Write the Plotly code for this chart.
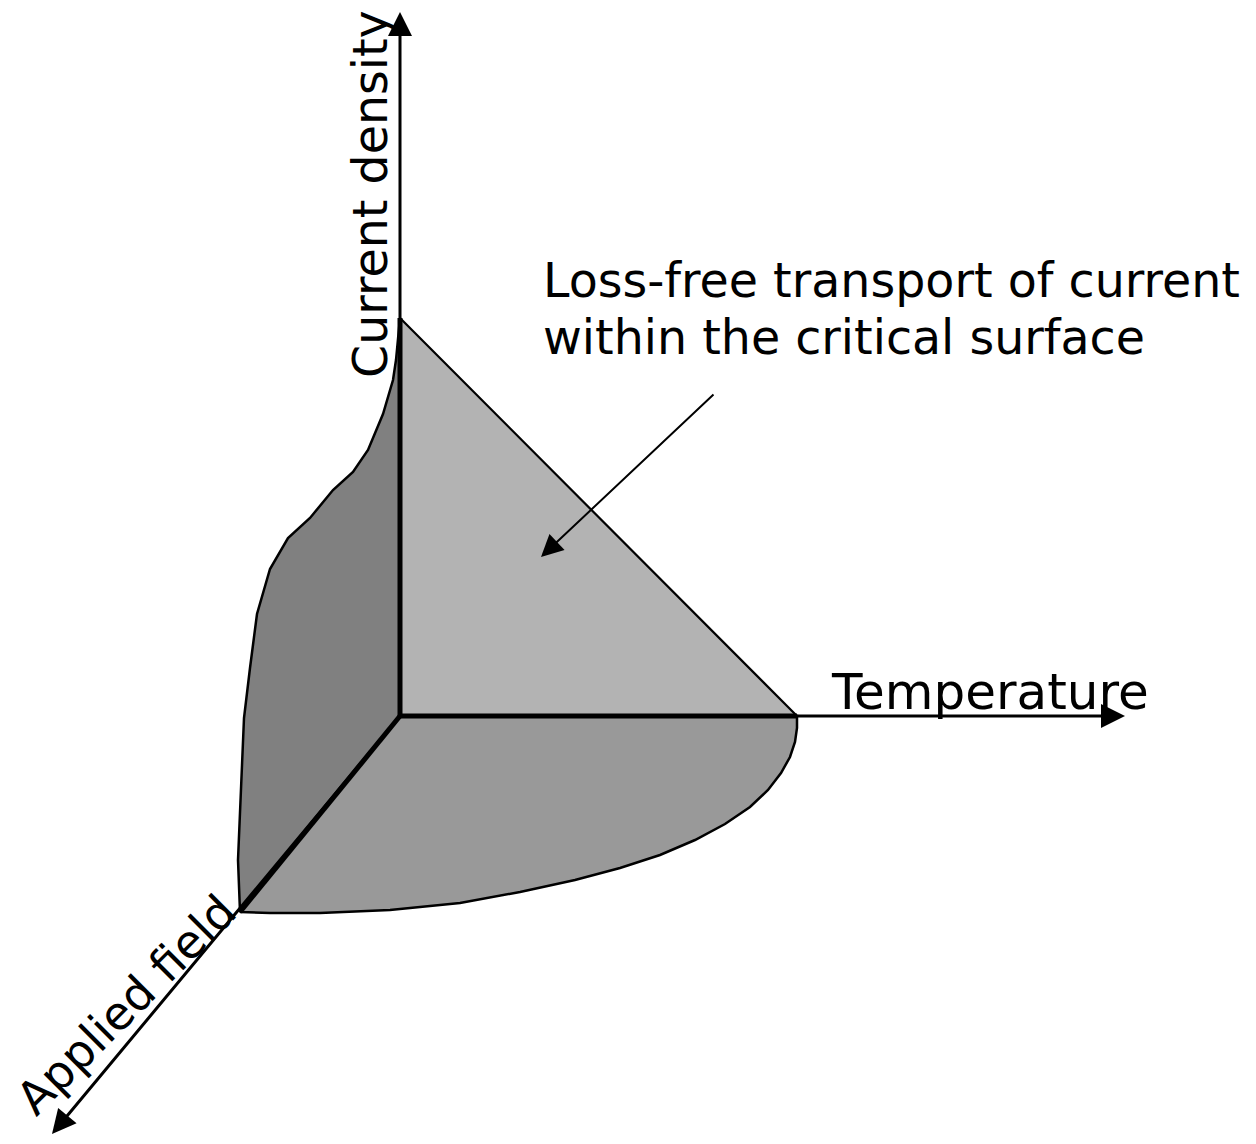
import plotly.graph_objects as go

# ---- diagram data (pixel-space coordinates of the sketch) ----
origin = [400, 716]
jc_point = [400, 318]      # critical current density on the current axis
tc_point = [797, 716]      # critical temperature on the temperature axis
bc_point = [240, 912]      # critical field on the applied-field axis

current_tip = [400, 12]
temperature_tip = [1125, 716]
field_tip = [52, 1134]

# J-B face boundary (from critical field up to critical current)
jb_curve_x = [240, 238, 240, 244, 250, 257, 270, 288, 310, 333, 353, 368, 383, 393, 396, 398, 400]
jb_curve_y = [912, 860, 812, 718, 668, 614, 569, 538, 518, 490, 472, 450, 414, 380, 360, 340, 318]

# T-B face boundary (from critical temperature down to critical field)
tb_curve_x = [797, 797, 795, 790, 781, 768, 750, 725, 695, 660, 620, 575, 520, 460, 390, 320, 270, 240]
tb_curve_y = [716, 728, 742, 757, 773, 790, 807, 824, 840, 855, 868, 880, 892, 903, 910, 913, 913, 912]

pointer_start = [715, 393]
pointer_end = [541, 557]

labels = {
    "current": "Current density",
    "temperature": "Temperature",
    "field": "Applied field",
    "note1": "Loss-free transport of current",
    "note2": "within the critical surface",
}

FONT = "DejaVu Sans"

fig = go.Figure()

# dark face (J-B plane)
fig.add_trace(go.Scatter(
    x=[origin[0]] + jb_curve_x + [origin[0]],
    y=[origin[1]] + jb_curve_y + [origin[1]],
    fill="toself", fillcolor="#808080", mode="lines",
    line=dict(color="black", width=2.5), hoverinfo="skip", showlegend=False))

# bottom face (T-B plane)
fig.add_trace(go.Scatter(
    x=[origin[0]] + tb_curve_x + [origin[0]],
    y=[origin[1]] + tb_curve_y + [origin[1]],
    fill="toself", fillcolor="#999999", mode="lines",
    line=dict(color="black", width=2.5), hoverinfo="skip", showlegend=False))

# light face (J-T plane)
fig.add_trace(go.Scatter(
    x=[origin[0], jc_point[0], tc_point[0], origin[0]],
    y=[origin[1], jc_point[1], tc_point[1], origin[1]],
    fill="toself", fillcolor="#b3b3b3", mode="lines",
    line=dict(color="black", width=2.2), hoverinfo="skip", showlegend=False))

# thick inner edges
for p in (jc_point, tc_point, bc_point):
    fig.add_trace(go.Scatter(
        x=[origin[0], p[0]], y=[origin[1], p[1]], mode="lines",
        line=dict(color="black", width=5), hoverinfo="skip", showlegend=False))

# axes with arrowheads
for tip in (current_tip, temperature_tip, field_tip):
    fig.add_annotation(
        x=tip[0], y=tip[1], ax=origin[0], ay=origin[1],
        xref="x", yref="y", axref="x", ayref="y",
        showarrow=True, arrowhead=2, arrowsize=1.6, arrowwidth=3,
        arrowcolor="black", text="")

# pointer arrow
fig.add_annotation(
    x=pointer_end[0], y=pointer_end[1], ax=pointer_start[0], ay=pointer_start[1],
    xref="x", yref="y", axref="x", ayref="y",
    showarrow=True, arrowhead=2, arrowsize=2.2, arrowwidth=2,
    arrowcolor="black", text="")

# text labels
fig.add_annotation(x=370, y=194, text=labels["current"], textangle=-90,
                   showarrow=False, font=dict(family=FONT, size=47.5, color="black"))
fig.add_annotation(x=990, y=692, text=labels["temperature"],
                   showarrow=False, font=dict(family=FONT, size=50, color="black"))
fig.add_annotation(x=126, y=1005, text=labels["field"], textangle=-45,
                   showarrow=False, font=dict(family=FONT, size=46, color="black"))
fig.add_annotation(x=541, y=280, text=labels["note1"], xanchor="left",
                   showarrow=False, font=dict(family=FONT, size=47.5, color="black"))
fig.add_annotation(x=541, y=337, text=labels["note2"], xanchor="left",
                   showarrow=False, font=dict(family=FONT, size=47.5, color="black"))

fig.update_xaxes(range=[0, 1256], visible=False, fixedrange=True)
fig.update_yaxes(range=[1144, 0], visible=False, fixedrange=True)
fig.update_layout(
    width=1256, height=1144,
    margin=dict(l=0, r=0, t=0, b=0),
    paper_bgcolor="white", plot_bgcolor="white",
    showlegend=False,
)

fig.write_html("out.html", config={"displayModeBar": False},
               post_script="document.body.style.margin='0';document.body.style.overflow='hidden';")
